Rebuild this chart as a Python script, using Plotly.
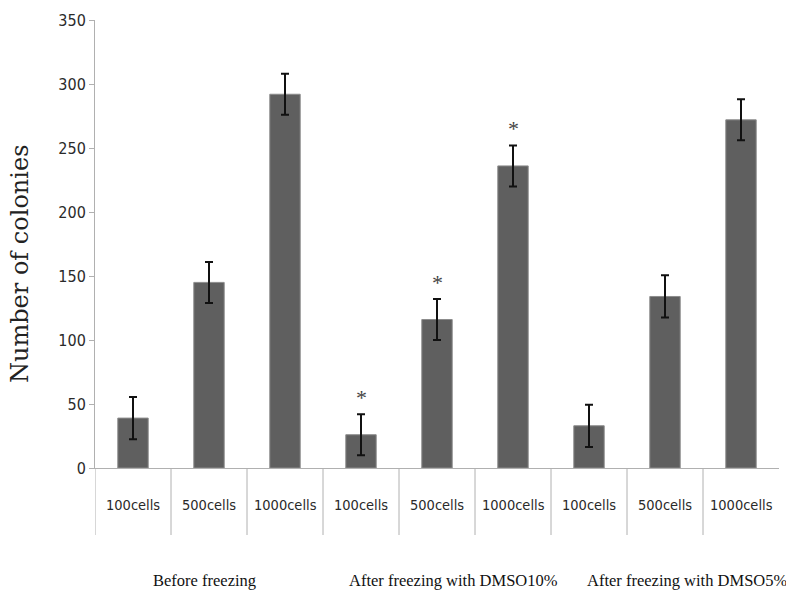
import plotly.graph_objects as go

# ---- data ----
cell_labels = ["100cells", "500cells", "1000cells",
               "100cells", "500cells", "1000cells",
               "100cells", "500cells", "1000cells"]
colonies = [39, 145, 292, 26, 116, 236, 33, 134, 272]
errors = [16.5, 16, 16, 16, 16, 16, 16.5, 16.5, 16]
significant = [False, False, False, True, True, True, False, False, False]
group_labels = ["Before freezing", "After freezing with DMSO10%", "After freezing with DMSO5%"]
y_ticks = [0, 50, 100, 150, 200, 250, 300, 350]

# ---- layout constants ----
W, H = 786, 597
ML, MR, MT, MB = 95, 7, 20, 129
plot_h = H - MT - MB
plot_w = W - ML - MR
narrow = "Liberation Sans Narrow, Arial Narrow, DejaVu Sans Condensed, sans-serif"
serif = "Liberation Serif, Times New Roman, serif"

xs = list(range(len(colonies)))

fig = go.Figure()
fig.add_trace(go.Bar(
    x=xs, y=colonies, width=0.4,
    marker=dict(color="#5f5f5f", line=dict(color="#8c8c8c", width=1)),
    error_y=dict(type="data", array=errors, visible=True,
                 color="#111111", thickness=2, width=4),
    showlegend=False, hoverinfo="skip",
))

annotations = []
shapes = []
# category labels and separators
for i, lab in enumerate(cell_labels):
    annotations.append(dict(x=i, y=-37 / plot_h, xref="x", yref="paper",
                            text=lab, showarrow=False, yanchor="middle",
                            font=dict(family=narrow, size=14.5, color="#2a2a2a")))
for i in range(len(cell_labels)):
    shapes.append(dict(type="line", xref="x", yref="paper",
                       x0=i - 0.5, x1=i - 0.5, y0=0, y1=-67 / plot_h,
                       line=dict(color="#b0b0b0", width=1)))
# significance asterisks
for i, (v, e, s) in enumerate(zip(colonies, errors, significant)):
    if s:
        annotations.append(dict(x=i, y=v + e, xref="x", yref="y", text="*",
                                showarrow=False, yanchor="bottom", yshift=2,
                                font=dict(family=serif, size=22, color="#444444")))
# group labels (pixel-positioned centers)
group_x = [0.947, 4.22, 7.29]
for gx, g in zip(group_x, group_labels):
    annotations.append(dict(x=gx, y=-112 / plot_h, xref="x", yref="paper",
                            text=g, showarrow=False, yanchor="middle",
                            font=dict(family=serif, size=16.5, color="#111111")))
# y title
annotations.append(dict(xref="x domain", yref="y domain",
                        x=(20 - ML) / plot_w, y=(H - MB - 264) / plot_h,
                        text="Number of colonies", showarrow=False, textangle=-90,
                        xanchor="center", yanchor="middle",
                        font=dict(family="DejaVu Serif, serif", size=24, color="#222222")))

fig.update_layout(
    width=W, height=H,
    margin=dict(l=ML, r=MR, t=MT, b=MB, pad=0),
    paper_bgcolor="white", plot_bgcolor="white",
    xaxis=dict(range=[-0.5, 8.5], showticklabels=False, ticks="",
               showgrid=False, zeroline=False, showline=True,
               linecolor="#b0b0b0", linewidth=1, fixedrange=True),
    yaxis=dict(range=[0, 350], tickvals=y_ticks, ticks="outside", ticklen=5,
               tickcolor="#b0b0b0", showgrid=False, zeroline=False,
               showline=True, linecolor="#b0b0b0", linewidth=1,
               tickfont=dict(family=narrow, size=16, color="#2a2a2a"),
               fixedrange=True, automargin=False),
    annotations=annotations, shapes=shapes,
    bargap=0.6,
)

fig.write_html("out.html", config={"displayModeBar": False},
               post_script="document.body.style.margin='0';document.body.style.overflow='hidden';")
